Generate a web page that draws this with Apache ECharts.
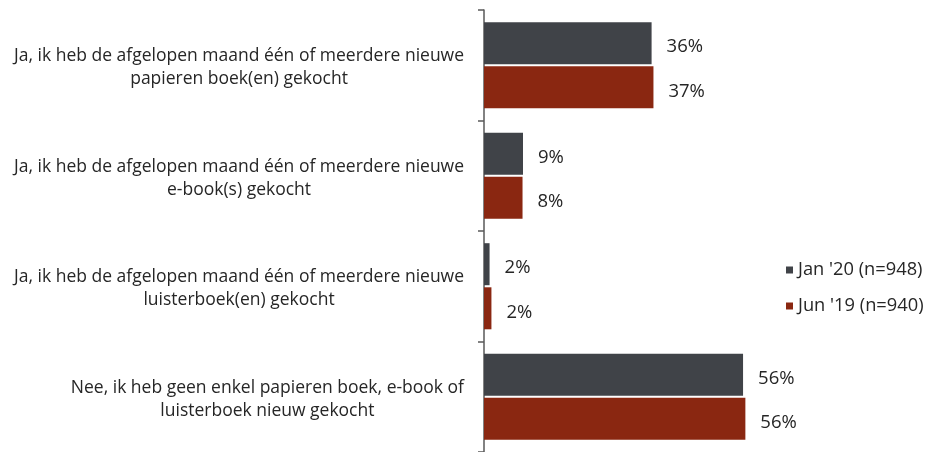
<!DOCTYPE html>
<html>
<head>
<meta charset="utf-8">
<script src="https://cdn.jsdelivr.net/npm/echarts@6/dist/echarts.min.js"></script>
<style>
  html, body { margin: 0; padding: 0; background: #fff; }
  #chart { width: 926px; height: 452px; }
</style>
</head>
<body>
<div id="chart"></div>
<script>
// categorieën (van boven naar beneden)
const categories = [
  'Ja, ik heb de afgelopen maand één of meerdere nieuwe\npapieren boek(en) gekocht',
  'Ja, ik heb de afgelopen maand één of meerdere nieuwe\ne-book(s) gekocht',
  'Ja, ik heb de afgelopen maand één of meerdere nieuwe\nluisterboek(en) gekocht',
  'Nee, ik heb geen enkel papieren boek, e-book of\nluisterboek nieuw gekocht'
]

const seriesNames = ["Jan '20 (n=948)", "Jun '19 (n=940)"]

const jan20Values = [36.1, 8.4, 1.2, 55.8]
const jun19Values = [36.5, 8.3, 1.6, 56.3]

// labels zoals in de grafiek
const jan20Labels = ['36%', '9%', '2%', '56%']
const jun19Labels = ['37%', '8%', '2%', '56%']

const font = '"Open Sans", "Noto Sans", sans-serif'
const textColor = '#262626'

const chart = echarts.init(document.getElementById('chart'))

const valueLabel = (labels) => ({
  show: true,
  position: 'right',
  distance: 15,
  offset: [0, 4],
  color: textColor,
  fontFamily: font,
  fontSize: 18.5,
  formatter: (p) => labels[p.dataIndex],
})

chart.setOption({
  animation: false,
  textStyle: { fontFamily: font },
  legend: {
    orient: 'vertical',
    left: 781,
    top: 256,
    itemWidth: 7,
    itemHeight: 7,
    itemGap: 18,
    icon: 'rect',
    textStyle: { color: textColor, fontSize: 18.3, fontFamily: font },
    data: seriesNames,
  },
  grid: {
    left: 484,
    right: 70.6,
    top: 10,
    bottom: 0,
    containLabel: false,
  },
  xAxis: {
    type: 'value',
    min: 0,
    max: 80,
    show: false,
  },
  yAxis: {
    type: 'category',
    inverse: true,
    data: categories,
    axisLine: { show: true, lineStyle: { color: '#595959', width: 1.5 } },
    axisTick: { show: true, length: 6, lineStyle: { color: '#595959', width: 1.5 } },
    axisLabel: {
      margin: 20,
      padding: [5, 0, 0, 0],
      color: textColor,
      fontSize: 17.5,
      fontFamily: font,
      lineHeight: 23,
      formatter: (v) => v.split('\n').map((s) => '{c|' + s + '}').join('\n'),
      rich: {
        c: { align: 'center', fontSize: 17.5, fontFamily: font, color: textColor, lineHeight: 23 },
      },
    },
    splitLine: { show: false },
  },
  series: [
    {
      name: seriesNames[0],
      type: 'bar',
      data: jan20Values,
      barWidth: 42,
      barGap: '5%',
      itemStyle: { color: '#404348' },
      label: valueLabel(jan20Labels),
    },
    {
      name: seriesNames[1],
      type: 'bar',
      data: jun19Values,
      barWidth: 42,
      barGap: '5%',
      itemStyle: { color: '#8a2711' },
      label: valueLabel(jun19Labels),
    },
  ],
})
</script>
</body>
</html>
